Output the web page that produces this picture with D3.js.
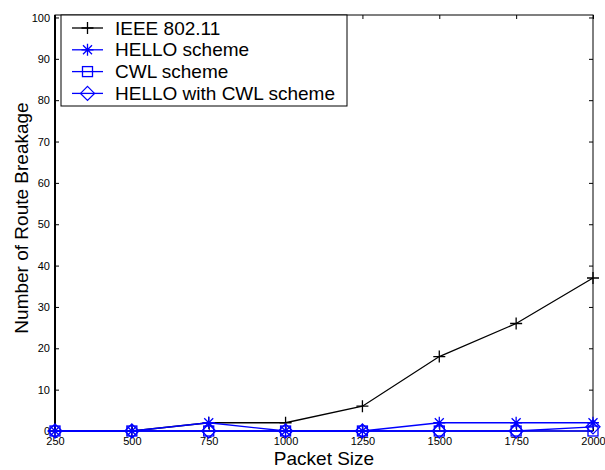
<!DOCTYPE html>
<html>
<head>
<meta charset="utf-8">
<script src="https://cdn.jsdelivr.net/npm/d3@7"></script>
<style>
  body { margin: 0; background: #fff; }
  svg { font-family: "Liberation Sans", Arial, sans-serif; }
</style>
</head>
<body>
<svg id="chart" width="605" height="470"></svg>
<script>
// values
const packetSizes = [250, 500, 750, 1000, 1250, 1500, 1750, 2000];
const ieee = [0, 0, 2, 2, 6, 18, 26, 37];
const hello = [0, 0, 2, 0, 0, 2, 2, 2];
const cwl = [0, 0, 0, 0, 0, 0, 0, 0];
const helloCwl = [0, 0, 0, 0, 0, 0, 0, 1];
const yTicks = [0, 10, 20, 30, 40, 50, 60, 70, 80, 90, 100];

const series = [
  { name: "IEEE 802.11", values: ieee, color: "#000", marker: "plus" },
  { name: "HELLO scheme", values: hello, color: "#00f", marker: "star" },
  { name: "CWL scheme", values: cwl, color: "#00f", marker: "square" },
  { name: "HELLO with CWL scheme", values: helloCwl, color: "#00f", marker: "diamond" }
];

const margin = { top: 15, left: 55, right: 12, bottom: 39 };
const width = 605, height = 470;
const w = width - margin.left - margin.right;
const h = height - margin.top - margin.bottom;

const svg = d3.select("#chart");
const g = svg.append("g").attr("transform", "translate(" + [margin.left, margin.top] + ")");

const x = d3.scaleLinear().domain([250, 2000]).range([0, w]);
const y = d3.scaleLinear().domain([0, 100.6]).range([h, 0]);

// frame
g.append("rect").attr("width", w).attr("height", h)
  .attr("fill", "none").attr("stroke", "#000").attr("stroke-width", 1);
g.append("line").attr("x1", 0).attr("x2", 0).attr("y1", 0).attr("y2", h)
  .attr("stroke", "#000").attr("stroke-width", 2);

// axes, inward ticks like matlab
const xAxis = g.append("g").attr("transform", "translate(0," + h + ")")
  .call(d3.axisBottom(x).tickValues(packetSizes).tickSize(-4).tickPadding(6).tickFormat(d3.format("d")));
const xTop = g.append("g")
  .call(d3.axisTop(x).tickValues(packetSizes).tickSize(-4).tickFormat(""));
const yAxis = g.append("g")
  .call(d3.axisLeft(y).tickValues(yTicks).tickSize(-4).tickPadding(5));
const yRight = g.append("g").attr("transform", "translate(" + w + ",0)")
  .call(d3.axisRight(y).tickValues(yTicks).tickSize(-4).tickFormat(""));

[xAxis, xTop, yAxis, yRight].forEach(a => {
  a.select(".domain").remove();
  a.selectAll("text").style("font-size", "11px").attr("fill", "#000")
    .style("font-family", "'Liberation Sans', Arial, sans-serif");
});

// markers
function drawMarker(sel, type, color) {
  const s = 6;
  if (type === "plus") {
    sel.append("path").attr("d", `M${-s},0H${s}M0,${-s}V${s}`)
      .attr("stroke", color).attr("stroke-width", 1.3).attr("fill", "none");
  } else if (type === "star") {
    const d = s * 0.75;
    sel.append("path").attr("d", `M${-s},0H${s}M0,${-s}V${s}M${-d},${-d}L${d},${d}M${-d},${d}L${d},${-d}`)
      .attr("stroke", color).attr("stroke-width", 1.3).attr("fill", "none");
  } else if (type === "square") {
    sel.append("rect").attr("x", -5).attr("y", -5).attr("width", 10).attr("height", 10)
      .attr("stroke", color).attr("stroke-width", 1.3).attr("fill", "none");
  } else if (type === "diamond") {
    sel.append("path").attr("d", `M0,${-7}L7,0L0,7L-7,0Z`)
      .attr("stroke", color).attr("stroke-width", 1.3).attr("fill", "none");
  }
}

const line = d3.line().x((d, i) => x(packetSizes[i])).y(d => y(d));

series.forEach(s => {
  g.append("path").datum(s.values).attr("d", line)
    .attr("fill", "none").attr("stroke", s.color).attr("stroke-width", 1.3);
  g.selectAll(null).data(s.values).enter().append("g")
    .attr("transform", (d, i) => "translate(" + [x(packetSizes[i]), y(d)] + ")")
    .each(function () { drawMarker(d3.select(this), s.marker, s.color); });
});

// legend
const legend = g.append("g").attr("transform", "translate(6,0)");
legend.append("rect").attr("x", 0).attr("y", 0).attr("width", 286).attr("height", 91)
  .attr("fill", "#fff").attr("stroke", "#000").attr("stroke-width", 1);
series.forEach((s, i) => {
  const row = legend.append("g").attr("transform", "translate(0," + (13 + i * 21.8) + ")");
  row.append("line").attr("x1", 11).attr("x2", 42).attr("y1", 0).attr("y2", 0)
    .attr("stroke", s.color).attr("stroke-width", 1.3);
  const m = row.append("g").attr("transform", "translate(26.5,0)");
  drawMarker(m, s.marker, s.color);
  row.append("text").attr("x", 54).attr("y", 0).attr("dy", "0.35em")
    .style("font-size", "19px").attr("fill", "#000").text(s.name);
});

// axis labels
svg.append("text").attr("x", margin.left + w / 2).attr("y", 465)
  .attr("text-anchor", "middle").style("font-size", "19px").text("Packet Size");
svg.append("text").attr("transform", "translate(28,218) rotate(-90)")
  .attr("text-anchor", "middle").style("font-size", "19px").text("Number of Route Breakage");
</script>
</body>
</html>
